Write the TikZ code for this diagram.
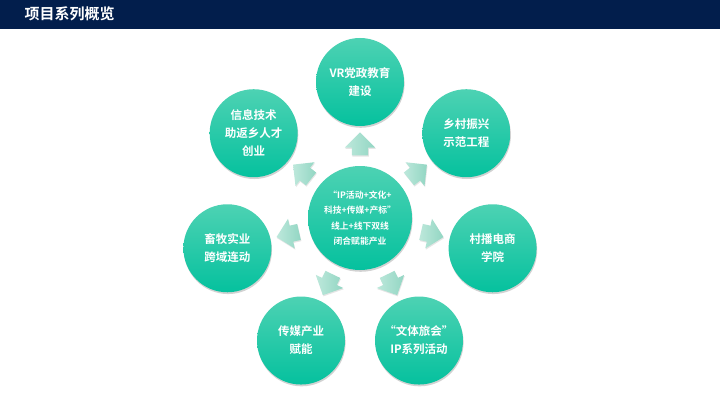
\documentclass[tikz,border=0pt]{standalone}
\usepackage{fontspec}
\setmainfont{Noto Sans CJK SC}[BoldFont={Noto Sans CJK SC Bold}]
\usepackage{xcolor}
\usetikzlibrary{shapes.arrows, shadows}

\definecolor{barblue}{HTML}{021E4C}
\definecolor{circtop}{HTML}{4DD2B3}
\definecolor{circbot}{HTML}{05C19E}
\definecolor{arrtop}{HTML}{BDE8DB}
\definecolor{arrbot}{HTML}{92D6C3}

\begin{document}
\begin{tikzpicture}[x=1pt, y=1pt]
        \tikzset{petal/.style={circle, minimum size=88pt, inner sep=0pt, top color=circtop, bottom color=circbot,
                 text=white, font=\fontsize{11.5}{18}\selectfont\bfseries, align=center,
                 drop shadow={opacity=0.35, shadow xshift=0.6pt, shadow yshift=-1.8pt}}}
        \tikzset{hubstyle/.style={petal, minimum size=104pt, font=\fontsize{8.8}{15}\selectfont\bfseries}}
        \tikzset{pointer/.style={single arrow, minimum height=23pt, single arrow head extend=7pt,
                 inner xsep=0pt, inner ysep=8pt, left color=arrtop, right color=arrbot,
                 drop shadow={opacity=0.2, shadow xshift=0.6pt, shadow yshift=-1.2pt}}}

        \useasboundingbox (0,0) rectangle (720,405);
        \fill[white] (0,0) rectangle (720,405);

        % header
        \fill[barblue] (0,376) rectangle (720,405);
        \node[anchor=west, text=white, font=\fontsize{15}{15}\selectfont\bfseries] (title) at (21,391) {项目系列概览};

        \begin{scope}[shift={(360,187)}]
            \node[hubstyle] (hub) at (0,0) {“IP活动+文化+\\科技+传媒+产标”\\[1pt]线上+线下双线\\闭合赋能产业};

            \node[petal] (vr)    at (90:136)     {VR党政教育\\建设};
            \node[petal] (rural) at (38.57:136)  {乡村振兴\\示范工程};
            \node[petal] (live)  at (-12.86:136) {村播电商\\学院};
            \node[petal] (tour)  at (-64.29:136) {“文体旅会”\\IP系列活动};
            \node[petal] (media) at (-115.71:136) {传媒产业\\赋能};
            \node[petal] (herd)  at (-167.14:136) {畜牧实业\\跨域连动};
            \node[petal] (tech)  at (141.43:136) {信息技术\\助返乡人才\\创业};

            \node[pointer, rotate=90]      (a1) at (90:70)      {};
            \node[pointer, rotate=38.57]   (a2) at (38.57:70)   {};
            \node[pointer, rotate=-12.86]  (a3) at (-12.86:70)  {};
            \node[pointer, rotate=-64.29]  (a4) at (-64.29:70)  {};
            \node[pointer, rotate=-115.71] (a5) at (-115.71:70) {};
            \node[pointer, rotate=-167.14] (a6) at (-167.14:70) {};
            \node[pointer, rotate=141.43]  (a7) at (141.43:70)  {};
        \end{scope}
    \end{tikzpicture}
\end{document}
